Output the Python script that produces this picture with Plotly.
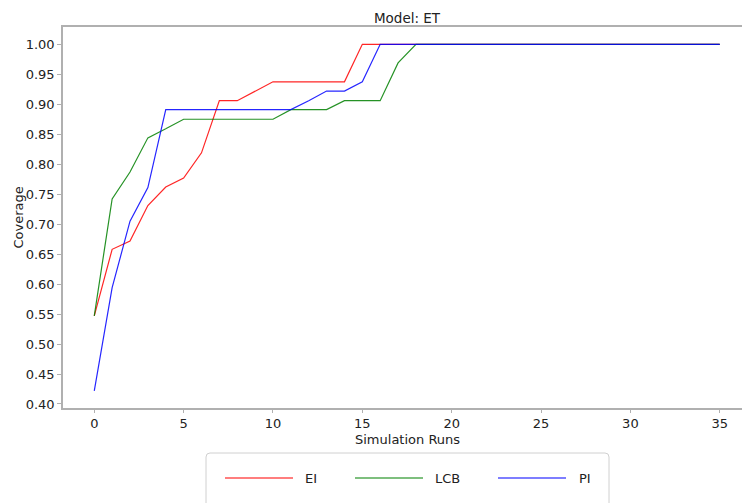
import plotly.graph_objects as go

runs = list(range(36))
ei = [0.547, 0.658, 0.672, 0.731, 0.762, 0.777, 0.819, 0.906, 0.906, 0.922,
      0.9375, 0.9375, 0.9375, 0.9375, 0.9375] + [1.0] * 21
lcb = [0.547, 0.742, 0.787, 0.844, 0.859, 0.875, 0.875, 0.875, 0.875, 0.875,
       0.875, 0.891, 0.891, 0.891, 0.906, 0.906, 0.906, 0.969] + [1.0] * 18
pi = [0.422, 0.594, 0.705, 0.761, 0.891, 0.891, 0.891, 0.891, 0.891, 0.891,
      0.891, 0.891, 0.906, 0.922, 0.922, 0.9375] + [1.0] * 20
series_names = ["EI", "LCB", "PI"]
series_colors = ["#ff0000", "#008000", "#0000ff"]
y_ticks = [0.40, 0.45, 0.50, 0.55, 0.60, 0.65, 0.70, 0.75, 0.80, 0.85, 0.90, 0.95, 1.00]
x_ticks = [0, 5, 10, 15, 20, 25, 30, 35]

FONT = "DejaVu Sans"
# the original figure is wider than the visible 742 px window; its right part is cut off
W, H = 752, 503
ML, MR, MT, MB = 63, 1, 27, 95
PW, PH = W - ML - MR, H - MT - MB

fig = go.Figure()
for name, vals, col in zip(series_names, [ei, lcb, pi], series_colors):
    fig.add_trace(go.Scatter(x=runs, y=vals, mode="lines", name=name,
                             line=dict(color=col, width=1.2), opacity=0.85,
                             showlegend=False, cliponaxis=False))

spine = "#b0b0b0"
txt = "#222222"
fig.update_layout(
    width=W, height=H,
    margin=dict(l=ML, r=MR, t=MT, b=MB, autoexpand=False),
    paper_bgcolor="white", plot_bgcolor="white",
    font=dict(family=FONT, size=13, color=txt),
    title=dict(text="Model: ET", x=0.5, xref="paper",
               y=1 - 18 / H, yanchor="middle", xanchor="center",
               font=dict(family=FONT, size=13.5, color=txt)),
    xaxis=dict(range=[-1.75, 36.75], tickvals=x_ticks, showgrid=False, zeroline=False,
               showline=True, linecolor=spine, linewidth=1.5, mirror=True,
               ticks="outside", ticklen=3, tickcolor=spine, automargin=False,
               tickfont=dict(family=FONT, size=13, color=txt)),
    yaxis=dict(range=[0.3933, 1.0289], tickvals=y_ticks, tickformat=".2f",
               showgrid=False, zeroline=False, mirror=True,
               showline=True, linecolor=spine, linewidth=1.5,
               ticks="outside", ticklen=4, tickcolor=spine, automargin=False,
               tickfont=dict(family=FONT, size=13, color=txt)),
)

def px_x(px):
    return (px - ML) / PW

def px_y(py):
    return (H - MB - py) / PH

# axis titles placed at the reference pixel positions
fig.add_annotation(text="Simulation Runs", xref="paper", yref="paper",
                   x=0.5, y=px_y(439), xanchor="center", yanchor="middle",
                   showarrow=False, font=dict(family=FONT, size=13, color=txt))
fig.add_annotation(text="Coverage", xref="paper", yref="paper", textangle=-90,
                   x=px_x(18), y=0.5, xanchor="center", yanchor="middle",
                   showarrow=False, font=dict(family=FONT, size=13, color=txt))

# legend frame (rounded box, extends below the visible area)
x0, x1, y0, y1 = px_x(206), px_x(609), px_y(453), px_y(530)
rx, ry = 4 / PW, 4 / PH
path = (f"M {x0+rx},{y0} L {x1-rx},{y0} Q {x1},{y0} {x1},{y0-ry} "
        f"L {x1},{y1} L {x0},{y1} L {x0},{y0-ry} Q {x0},{y0} {x0+rx},{y0} Z")
fig.add_shape(type="path", path=path, xref="paper", yref="paper",
              line=dict(color="#d0d0d0", width=1), fillcolor="white", layer="above")

leg_line_x = [225, 355, 498]
leg_text_x = [303, 433, 577]
leg_y = px_y(478)
for name, col, lx, tx in zip(series_names, series_colors, leg_line_x, leg_text_x):
    fig.add_shape(type="line", xref="paper", yref="paper",
                  x0=px_x(lx), x1=px_x(lx + 68), y0=leg_y, y1=leg_y,
                  line=dict(color=col, width=2), opacity=0.5, layer="above")
    fig.add_annotation(text=name, xref="paper", yref="paper", x=px_x(tx), y=leg_y,
                       xanchor="left", yanchor="middle", showarrow=False,
                       font=dict(family=FONT, size=13, color=txt))

fig.write_html("out.html", config={"displayModeBar": False},
               post_script="document.body.style.margin='0';"
                           "document.body.style.overflow='hidden';")
